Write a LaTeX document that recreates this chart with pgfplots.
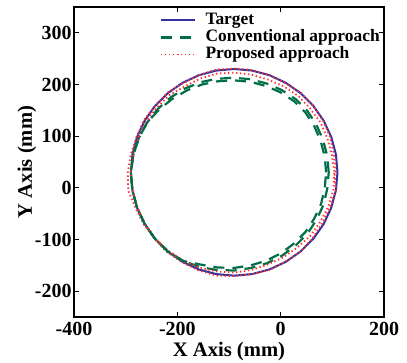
\documentclass[border=0pt]{standalone}
\usepackage{pgfplots}
\pgfplotsset{compat=1.18}
\usepackage{fontspec}
\setmainfont{Liberation Serif}
\definecolor{tblue}{RGB}{50,50,160}
\definecolor{cgreen}{RGB}{0,110,70}
\definecolor{pred}{RGB}{255,50,50}
\begin{document}
\begin{tikzpicture}
\begin{axis}[
  scale only axis, width=155pt, height=155pt,
  xmin=-400, xmax=200, ymin=-250, ymax=350,
  xtick={-400,-200,0,200}, ytick={-200,-100,...,300},
  tick align=inside, major tick length=2.5pt,
  axis line style={line width=0.7pt},
  tick style={line width=0.6pt,black},
  /pgf/number format/assume math mode=true,
  ticklabel style={font=\bfseries},
  yticklabel style={inner sep=1pt},
  xticklabel style={inner sep=0pt, yshift=-2.2pt},
  label style={font=\fontsize{10.3}{12}\selectfont\bfseries, inner sep=0pt},
  xlabel={X Axis (mm)}, ylabel={Y Axis (mm)},
  xlabel style={at={(axis description cs:0.5,-0.113)}, anchor=center},
  ylabel style={at={(axis description cs:-0.152,0.5)}, anchor=center},
  legend cell align=left,
  legend style={at={(axis description cs:0.277,0.984)}, anchor=north west,
    draw=none, fill=none, inner sep=0pt, outer sep=0pt, row sep=0pt,
    column sep=4.5pt,
    font=\fontsize{8.7}{10}\selectfont\bfseries,
    nodes={inner sep=0.15pt, text height=6.2pt, text depth=2pt}},
]
\addplot[tblue, line width=1pt] table {
x y
110 30
106.96 64.73
97.94 98.40
83.21 130
63.21 158.56
38.56 183.21
10 203.21
-21.6 217.94
-55.27 226.96
-90 230
-124.73 226.96
-158.4 217.94
-190 203.21
-218.56 183.21
-243.21 158.56
-263.21 130
-277.94 98.40
-286.96 64.73
-290 30
-286.96 -4.73
-277.94 -38.40
-263.21 -70
-243.21 -98.56
-218.56 -123.21
-190 -143.21
-158.4 -157.94
-124.73 -166.96
-90 -170
-55.27 -166.96
-21.6 -157.94
10 -143.21
38.56 -123.21
63.21 -98.56
83.21 -70
97.94 -38.40
106.96 -4.73
110 30
};
\addlegendentry{Target}
\addplot[cgreen, line width=1.1pt, dash pattern=on 5.5pt off 4pt] table {
x y
93 30
90.2 61.8
82.0 92.6
69.3 122
51.7 148.9
28.9 171.7
2 189.3
-27.4 202.0
-58.2 210.2
-90 213
-121.9 211.2
-153.6 204.8
-184 192.8
-212.1 175.5
-237.1 153.4
-258.0 127
-274.2 97.0
-285.0 64.4
-290 30
-286.96 -4.73
-277.94 -38.4
-263.21 -70
-243.21 -98.56
-218.56 -123.21
-189 -141.5
-156.7 -153.2
-123.3 -159.1
-90 -160
-57.4 -155.1
-26.0 -145.7
3 -131.1
28.9 -111.7
51.7 -88.9
69.3 -62
82.9 -32.9
90.2 -1.8
93 30
};
\addlegendentry{Conventional approach}
\addplot[pred, line width=0.9pt, dash pattern=on 0.7pt off 1.3pt] table {
x y
107 30
103.0 64.0
96.1 97.7
82.3 129.5
63.2 158.6
39.2 184.0
9.5 202.3
-21.6 217.9
-55.1 228.0
-90 231
-125.1 228.9
-158.4 217.9
-189.5 202.3
-219.2 184.0
-243.2 158.6
-264.9 131
-278.9 98.7
-289.9 65.2
-296 30
-294.8 -6.1
-280.8 -39.4
-264.9 -71
-244.0 -99.2
-219.8 -124.7
-190.5 -144.1
-159.1 -159.8
-125.3 -169.9
-90 -171
-55.3 -167.0
-21.3 -158.9
9.5 -142.3
38.6 -123.2
61.7 -97.3
80.6 -68.5
96.1 -37.7
107.0 -4.7
104 30
99.1 63.3
90.4 95.7
77.2 126.5
57.1 153.4
34.1 177.9
6 196.3
-24.7 209.5
-56.7 219.1
-90 223
-123.7 221.1
-156.0 211.4
-186 196.3
-215.4 179.4
-239.4 155.4
-260.6 128.5
-275.1 97.4
-285.0 64.4
-290 30
-286.0 -4.6
-277.9 -38.4
-262.3 -69.5
-243.2 -98.6
-217.3 -121.7
-188.5 -140.6
-157.0 -154.2
-123.9 -162.0
-90 -164
-56.7 -159.1
-25.0 -148.5
5 -134.5
32.1 -115.5
57.1 -93.4
76.3 -66.0
92.3 -36.3
102.0 -3.9
104 30
};
\addlegendentry{Proposed approach}
\addplot[cgreen, line width=1.1pt, dash pattern=on 5.5pt off 4pt, forget plot] table {
x y
88 30
85.3 60.9
77.3 90.9
65.0 119.5
47.9 145.7
25.7 167.9
-0.5 185.0
-29.1 197.3
-59.1 205.3
-90 208
-121.0 206.3
-151.9 200.1
-181.5 188.5
-209.5 172.4
-235.2 151.5
-258.0 127
-274.2 97.0
-285.0 64.4
-290 30
-286.96 -4.73
-277.94 -38.4
-263.21 -70
-243.21 -98.56
-218.56 -123.21
-189 -141.5
-155.0 -148.5
-122.4 -154.2
-90 -155
-58.3 -150.2
-27.7 -141.0
0.5 -126.8
25.7 -107.9
47.9 -85.7
65.0 -59.5
78.2 -31.2
85.3 -0.9
88 30
};
\end{axis}
\pgfresetboundingbox
\path[use as bounding box] (-37pt,-23pt) rectangle (166.5pt,158.5pt);
\end{tikzpicture}
\end{document}
